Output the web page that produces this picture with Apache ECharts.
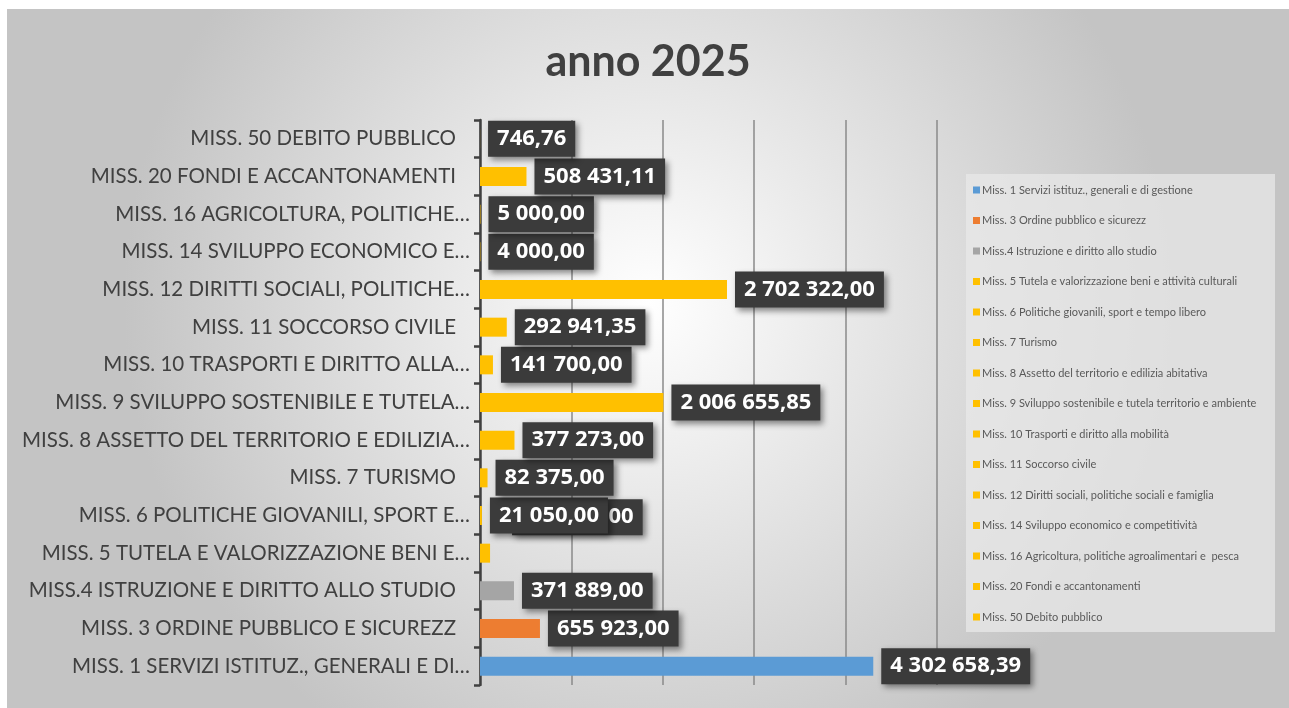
<!DOCTYPE html>
<html>
<head>
<meta charset="utf-8">
<script src="https://cdn.jsdelivr.net/npm/echarts@6/dist/echarts.min.js"></script>
<style>
    html, body { margin: 0; padding: 0; background: #fff; width: 1289px; height: 708px; overflow: hidden; }
    #bar { position: absolute; left: 7px; top: 9px; width: 1282px; height: 699px; }
</style>
</head>
<body>
<div id="bar"></div>
<script>
// etichette asse (dal basso verso l'alto)
var categories = [
    'MISS. 1 SERVIZI ISTITUZ., GENERALI E DI…',
    'MISS. 3 ORDINE PUBBLICO E SICUREZZ',
    'MISS.4 ISTRUZIONE E DIRITTO ALLO STUDIO',
    'MISS. 5 TUTELA E VALORIZZAZIONE BENI E…',
    'MISS. 6 POLITICHE GIOVANILI, SPORT E…',
    'MISS. 7 TURISMO',
    'MISS. 8 ASSETTO DEL TERRITORIO E EDILIZIA…',
    'MISS. 9 SVILUPPO SOSTENIBILE E TUTELA…',
    'MISS. 10 TRASPORTI E DIRITTO ALLA…',
    'MISS. 11 SOCCORSO CIVILE',
    'MISS. 12 DIRITTI SOCIALI, POLITICHE…',
    'MISS. 14 SVILUPPO ECONOMICO E…',
    'MISS. 16 AGRICOLTURA, POLITICHE…',
    'MISS. 20 FONDI E ACCANTONAMENTI',
    'MISS. 50 DEBITO PUBBLICO'
];
// voci legenda
var legendNames = [
    'Miss. 1 Servizi istituz., generali e di gestione',
    'Miss. 3 Ordine pubblico e sicurezz',
    'Miss.4 Istruzione e diritto allo studio',
    'Miss. 5 Tutela e valorizzazione beni e attività culturali',
    'Miss. 6 Politiche giovanili, sport e tempo libero',
    'Miss. 7 Turismo',
    'Miss. 8 Assetto del territorio e edilizia abitativa',
    'Miss. 9 Sviluppo sostenibile e tutela territorio e ambiente',
    'Miss. 10 Trasporti e diritto alla mobilità',
    'Miss. 11 Soccorso civile',
    'Miss. 12 Diritti sociali, politiche sociali e famiglia',
    'Miss. 14 Sviluppo economico e competitività',
    'Miss. 16 Agricoltura, politiche agroalimentari e  pesca',
    'Miss. 20 Fondi e accantonamenti',
    'Miss. 50 Debito pubblico'
];
// importi
var values = [
    4302658.39, 655923.00, 371889.00, 110000.00, 21050.00,
    82375.00, 377273.00, 2006655.85, 141700.00, 292941.35,
    2702322.00, 4000.00, 5000.00, 508431.11, 746.76
];
var colors = [
    '#5B9BD5', '#ED7D31', '#A5A5A5', '#FFC000', '#FFC000',
    '#FFC000', '#FFC000', '#FFC000', '#FFC000', '#FFC000',
    '#FFC000', '#FFC000', '#FFC000', '#FFC000', '#FFC000'
];
var xTicks = { min: 0, max: 5000000, interval: 1000000 };

// formato italiano: 4 302 658,39
function fmt(v){
    var p = v.toFixed(2).split('.');
    return p[0].replace(/\B(?=(\d{3})+(?!\d))/g, ' ') + ',' + p[1];
}

var myChart = echarts.init(document.getElementById('bar'));

var series = values.map(function(v, i){
    var data = categories.map(function(c, j){ return j === i ? v : '-'; });
    var label = {
        show: true,
        position: 'right',
        distance: 8,
        formatter: function(p){ return fmt(p.value); },
        color: '#fff',
        fontFamily: 'Open Sans',
        fontWeight: 'bold',
        fontSize: 22,
        backgroundColor: '#3b3b3b',
        padding: [8, 9, 6, 9],
        shadowBlur: 6,
        shadowColor: 'rgba(0,0,0,0.45)',
        shadowOffsetX: 3,
        shadowOffsetY: 3
    };
    // etichetta spostata (nascosta dietro Miss. 6)
    if (i === 3) { label.offset = [14, -36]; }
    return {
        name: legendNames[i],
        type: 'bar',
        stack: 'tot',
        barWidth: 19,
        itemStyle: { color: colors[i] },
        label: label,
        data: data
    };
});

var option = {
    backgroundColor: {
        type: 'radial', x: 0.5, y: 0.42, r: 0.75,
        colorStops: [
            { offset: 0, color: '#ffffff' },
            { offset: 1, color: '#c4c4c4' }
        ]
    },
    title: {
        text: 'anno 2025',
        left: 'center',
        top: 27,
        textStyle: { fontFamily: 'Lato', fontWeight: 'bold', fontSize: 43, color: '#404040' }
    },
    // riquadro legenda
    graphic: [{
        type: 'rect',
        left: 959,
        top: 165,
        z: -1,
        shape: { width: 309, height: 458 },
        style: { fill: 'rgba(232,232,232,0.75)' }
    }],
    legend: {
        orient: 'vertical',
        left: 966,
        top: 175,
        padding: 0,
        itemWidth: 7,
        itemHeight: 7,
        itemGap: 18.5,
        icon: 'rect',
        data: legendNames,
        textStyle: { fontFamily: 'Lato', fontSize: 11, color: '#595959', lineHeight: 12, padding: [0, 0, 0, -3] }
    },
    grid: {
        left: 473,
        top: 111,
        right: 352,
        bottom: 23,
        containLabel: false
    },
    xAxis: {
        type: 'value',
        min: xTicks.min,
        max: xTicks.max,
        interval: xTicks.interval,
        axisLabel: { show: false },
        axisLine: { show: false },
        axisTick: { show: false },
        splitLine: { show: true, lineStyle: { color: '#8a8a8a', width: 1.5 } }
    },
    yAxis: {
        type: 'category',
        data: categories,
        axisLine: { show: true, lineStyle: { color: '#404040', width: 2.5 } },
        axisTick: { show: true, length: 6, lineStyle: { color: '#404040', width: 2.5 } },
        axisLabel: {
            margin: 10,
            formatter: function(v){
                return v.slice(-1) === '…' ? '{a|' + v + '}' : '{b|' + v + '}';
            },
            rich: {
                a: { fontFamily: 'Lato', fontSize: 20.5, color: '#404040' },
                b: { fontFamily: 'Lato', fontSize: 20.5, color: '#404040', padding: [0, 14, 0, 0] }
            }
        }
    },
    series: series
};

myChart.setOption(option, true);
window.addEventListener('resize', function(){ myChart.resize(); });
</script>
</body>
</html>
